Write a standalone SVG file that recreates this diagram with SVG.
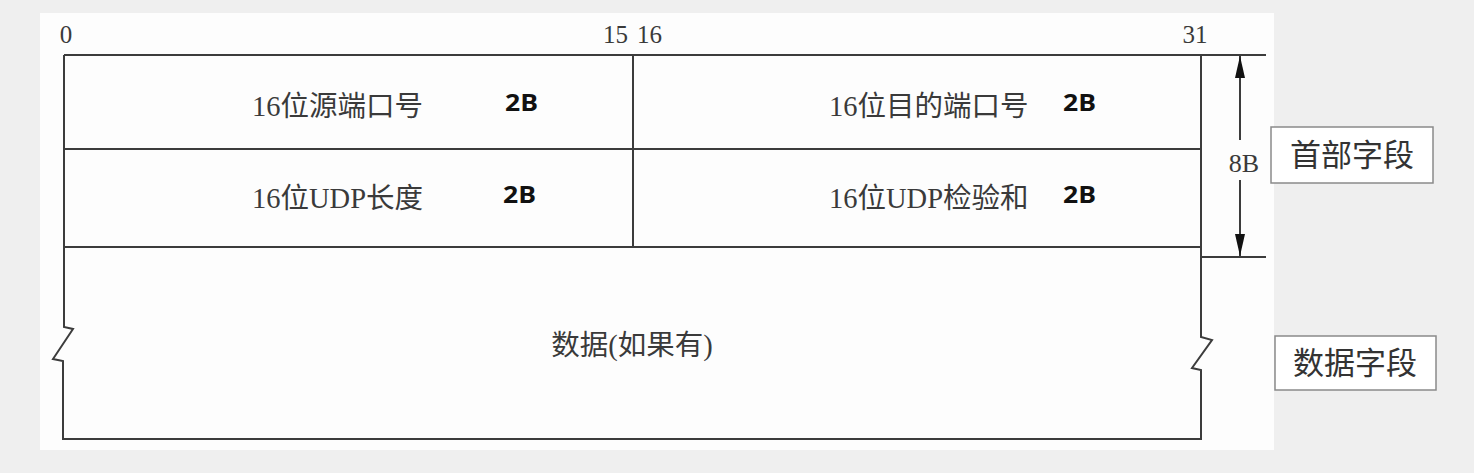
<svg xmlns="http://www.w3.org/2000/svg" width="1474" height="473" viewBox="0 0 1474 473">
<defs>
<style>
.ln{stroke:#3c3c3c;stroke-width:2;fill:none}
.t{font-family:"Liberation Serif","Noto Sans CJK SC",serif;fill:#3a3a3a}
.f{font-size:28.5px}
.n{font-size:25px}
.b{font-family:"Open Sans","Liberation Sans",sans-serif;font-weight:bold;font-size:24px;fill:#111}
.lbl{font-family:"Noto Sans CJK SC",sans-serif;font-size:31px;fill:#333;text-anchor:middle}
.box{fill:#fff;stroke:#8a8a8a;stroke-width:1.5}
</style>
<marker id="ah" viewBox="0 0 22 10" refX="22" refY="5" markerWidth="22" markerHeight="10" markerUnits="userSpaceOnUse" orient="auto">
<path d="M0,0 L22,5 L0,10 Z" fill="#111"/>
</marker>
</defs>
<rect x="0" y="0" width="1474" height="473" fill="#efefef"/>
<rect x="40" y="13" width="1234" height="437" fill="#fdfdfd"/>

<g id="bit-labels">
<text class="t n" x="66" y="43" text-anchor="middle">0</text>
<text class="t n" x="628" y="43" text-anchor="end">15</text>
<text class="t n" x="637" y="43">16</text>
<text class="t n" x="1195" y="43" text-anchor="middle">31</text>
</g>

<g id="frame">
<path class="ln" d="M64,55 H1266"/>
<path class="ln" d="M64,149 H1201"/>
<path class="ln" d="M64,247 H1201"/>
<path class="ln" d="M633,55 V247"/>
<path class="ln" d="M1201,257 H1266"/>
<path class="ln" d="M64,55 V327 L73,329 L53,359 L63,361 V439 H1201 V370 L1192,368 L1212,340 L1201,337 V55"/>
</g>

<g id="src-port">
<text class="t f" x="252" y="116">16位源端口号</text>
<text class="b" x="505" y="111" textLength="33" lengthAdjust="spacingAndGlyphs">2B</text>
</g>
<g id="dst-port">
<text class="t f" x="829" y="116">16位目的端口号</text>
<text class="b" x="1063" y="111" textLength="33" lengthAdjust="spacingAndGlyphs">2B</text>
</g>
<g id="udp-len">
<text class="t f" x="252" y="208">16位UDP长度</text>
<text class="b" x="503" y="203" textLength="33" lengthAdjust="spacingAndGlyphs">2B</text>
</g>
<g id="udp-sum">
<text class="t f" x="829" y="208">16位UDP检验和</text>
<text class="b" x="1063" y="203" textLength="33" lengthAdjust="spacingAndGlyphs">2B</text>
</g>
<g id="data">
<text class="t f" x="632" y="355" text-anchor="middle">数据(如果有)</text>
</g>

<g id="connectors">
<path class="ln" d="M1240,140 V56" marker-end="url(#ah)"/>
<path class="ln" d="M1240,180 V256" marker-end="url(#ah)"/>
<text class="t" x="1244" y="172" font-size="26" text-anchor="middle">8B</text>
</g>

<g id="header-label">
<rect class="box" x="1271" y="127" width="162" height="56"/>
<text class="lbl" x="1352" y="166">首部字段</text>
</g>
<g id="data-label">
<rect class="box" x="1275" y="336" width="161" height="54"/>
<text class="lbl" x="1355" y="374">数据字段</text>
</g>
</svg>
